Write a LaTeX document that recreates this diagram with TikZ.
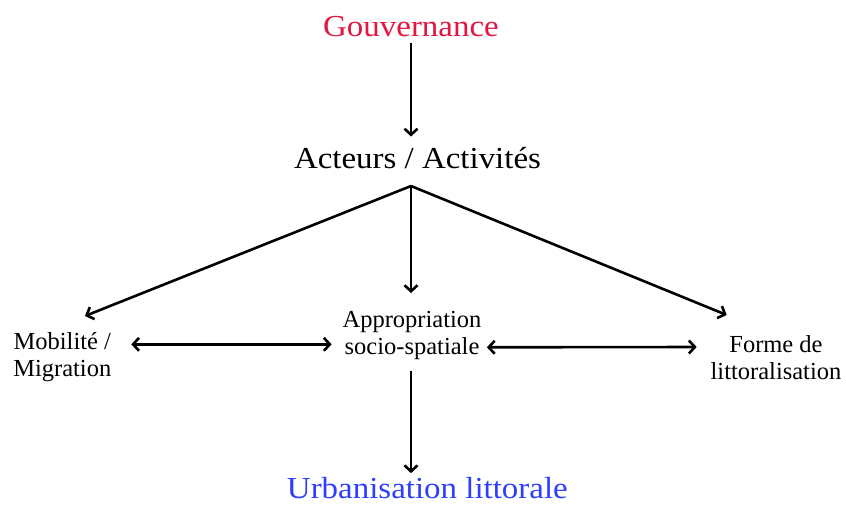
\documentclass[tikz,border=0pt]{standalone}
\usepackage{fontspec}
\setmainfont{Liberation Serif}
\newfontfamily\bigserif{Liberation Serif}[FakeStretch=1.08]
\usetikzlibrary{arrows.meta}
\definecolor{govred}{RGB}{226,22,62}
\definecolor{urbblue}{RGB}{45,62,255}
\tikzset{
  bigtext/.style={font=\bigserif\fontsize{30.5}{36}\selectfont, inner sep=0pt, outer sep=0pt},
  smalltext/.style={font=\fontsize{24.5}{27}\selectfont, align=center, inner sep=0pt, outer sep=0pt},
  arr/.style={line width=2.6pt, -{Straight Barb[length=6pt,width=13pt]}},
  dbl/.style={line width=2.6pt, {Straight Barb[length=6pt,width=13pt]}-{Straight Barb[length=6pt,width=13pt]}}
}
\begin{document}
\begin{tikzpicture}[x=1pt,y=-1pt]
\useasboundingbox (0,0) rectangle (846,507);
\node[bigtext, text=govred, anchor=base] (gov) at (411,36.7) {Gouvernance};
\node[bigtext, anchor=base] (act) at (417.5,168) {Acteurs / Activités};
\node[smalltext, anchor=north west] (mob) at (13.3,332.3) {Mobilité /\\Migration};
\node[smalltext, anchor=north] (app) at (412,311.6) {Appropriation\\socio-spatiale};
\node[smalltext, anchor=north] (forme) at (776,335) {Forme de\\littoralisation};
\node[bigtext, text=urbblue, anchor=base] (urb) at (427.4,498.3) {Urbanisation littorale};
\coordinate (apex) at (411,186);

\draw[arr, shorten >=10.3pt] ([yshift=-6.3pt]gov.south) -- (gov.south |- act.north);
\draw[arr] (apex) -- ([shift={(22.7pt,16.3pt)}]mob.north);
\draw[arr, shorten >=18.6pt] (apex) -- (apex |- app.north);
\draw[arr] (apex) -- ([shift={(-49.3pt,20pt)}]forme.north);
\draw[dbl] ([shift={(20pt,-12pt)}]mob.north east) -- ([shift={(-11pt,-32.7pt)}]app.north west);
\draw[dbl] ([shift={(5.5pt,-35.7pt)}]app.north east) -- ([shift={(-14pt,-12pt)}]forme.north west);
\draw[arr, shorten >=4pt] ([yshift=-11.4pt]app.south -| apex) -- (apex |- urb.north);
\end{tikzpicture}
\end{document}
